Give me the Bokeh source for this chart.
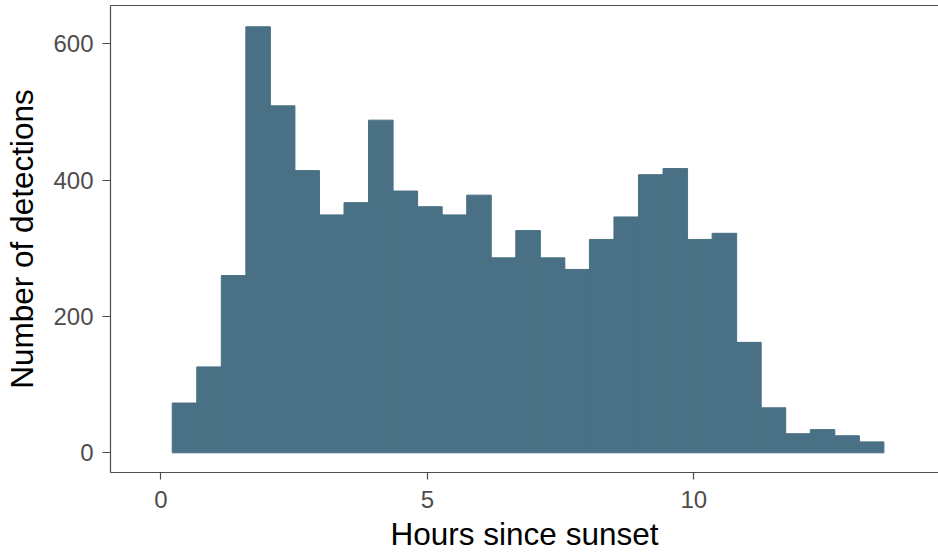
from bokeh.plotting import figure
from bokeh.models import LinearAxis, FixedTicker, Range1d
from bokeh.embed import file_html
from bokeh.resources import INLINE

# ---- data ----
bin_start = 0.214      # left edge of the first bin (hours)
bin_width = 0.4604     # width of each bin (hours)
counts = [73, 126, 260, 625, 509, 414, 349, 367, 488, 384, 361, 349, 378, 286,
          326, 286, 269, 313, 346, 408, 417, 313, 322, 162, 66, 28, 34, 25, 16]
x_ticks = [0, 5, 10]
y_ticks = [0, 200, 400, 600]
x_title = "Hours since sunset"
y_title = "Number of detections"

lefts = [bin_start + i * bin_width for i in range(len(counts))]
rights = [l + bin_width for l in lefts]
bottoms = [0] * len(counts)

FONT = "Liberation Sans"
AXIS_COL = "#4d4d4d"
BAR_COL = "#497084"

p = figure(width=938, height=558, output_backend="svg", toolbar_location=None,
           x_range=Range1d(-0.944, 14.59), y_range=Range1d(-28.9, 656.2),
           min_border_left=110, min_border_right=0, min_border_top=5,
           min_border_bottom=86)
p.background_fill_color = "white"
p.border_fill_color = "white"
p.outline_line_color = None
p.xgrid.visible = False
p.ygrid.visible = False

p.quad(left=lefts, right=rights, top=counts, bottom=bottoms,
       fill_color=BAR_COL, line_color=BAR_COL, line_width=1.0)

for ax, ticks in ((p.xaxis[0], x_ticks), (p.yaxis[0], y_ticks)):
    ax.ticker = FixedTicker(ticks=ticks)
    ax.axis_line_color = AXIS_COL
    ax.axis_line_width = 1.2
    ax.major_tick_line_color = AXIS_COL
    ax.major_tick_line_width = 1.2
    ax.major_tick_in = 0
    ax.minor_tick_line_color = None
    ax.major_label_text_font = FONT
    ax.major_label_text_font_size = "24px"
    ax.major_label_text_color = AXIS_COL
    ax.axis_label_text_font = FONT
    ax.axis_label_text_font_size = "31.5px"
    ax.axis_label_text_font_style = "normal"
    ax.axis_label_text_color = "black"

p.xaxis[0].axis_label = x_title
p.xaxis[0].major_tick_out = 7
p.xaxis[0].major_label_standoff = 11
p.xaxis[0].axis_label_standoff = 5
p.yaxis[0].axis_label = y_title
p.yaxis[0].major_tick_out = 8
p.yaxis[0].major_label_standoff = 9
p.yaxis[0].axis_label_standoff = 10

top_axis = LinearAxis(ticker=FixedTicker(ticks=[]), axis_line_color=AXIS_COL,
                      axis_line_width=1.2, major_tick_line_color=None,
                      minor_tick_line_color=None, major_label_text_font_size="0px",
                      major_label_standoff=0, major_tick_out=0, major_tick_in=0)
p.add_layout(top_axis, "above")

open("out.html", "w").write(file_html(p, INLINE))
